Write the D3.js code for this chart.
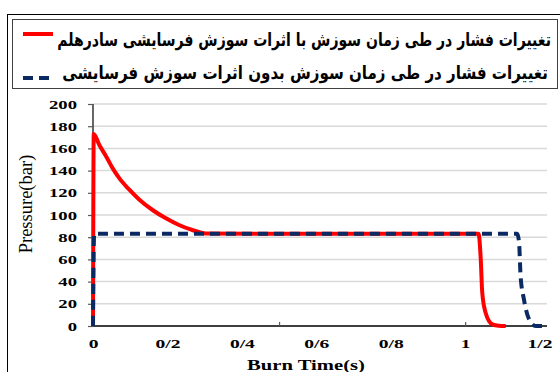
<!DOCTYPE html>
<html>
<head>
<meta charset="utf-8">
<script src="https://cdn.jsdelivr.net/npm/d3@7"></script>
<style>
  html, body { margin: 0; padding: 0; background: #fff; }
  svg { display: block; }
  .serif { font-family: "Liberation Serif", "Times New Roman", serif; }
  .fa { font-family: "DejaVu Sans", sans-serif; font-weight: bold; }
</style>
</head>
<body>
<svg id="chart" width="560" height="372"></svg>
<script>
// Pressure vs burn time, with and without erosive burning
const redTime = [0, 0.002, 0.017, 0.035, 0.053, 0.071, 0.097, 0.124, 0.160, 0.196, 0.231, 0.267, 0.303, 0.5, 0.8, 1.036, 1.042, 1.046, 1.055, 1.073, 1.09, 1.109];
const redPressure = [0, 173, 163, 153, 142, 133, 123, 114, 104.5, 97, 91, 86.5, 83.4, 83, 83, 83, 60, 30, 12, 1.5, 0.2, 0];

const navyTime = [0, 0.003, 0.3, 0.6, 0.9, 1.140, 1.145, 1.149, 1.158, 1.172, 1.190, 1.216];
const navyPressure = [0, 83, 83, 83, 83, 83, 75, 45, 24, 6, 0, 0];

const yTickValues = [0, 20, 40, 60, 80, 100, 120, 140, 160, 180, 200];
const xTickValues = [0, 0.2, 0.4, 0.6, 0.8, 1, 1.2];
const xTickLabels = ["0", "0/2", "0/4", "0/6", "0/8", "1", "1/2"];
const xMarkValues = [0, 0.5, 1];

const legendLabels = [
  "تغییرات فشار در طی زمان سوزش با اثرات سوزش فرسایشی سادرهلم",
  "تغییرات فشار در طی زمان سوزش بدون اثرات سوزش فرسایشی"
];
const xTitle = "Burn Time(s)";
const yTitle = "Pressure(bar)";

const svg = d3.select("#chart");
const plotLeft = 93, plotRight = 547, plotTop = 104, plotBottom = 326;

const x = d3.scaleLinear().domain([0, 1.22]).range([plotLeft, plotRight]);
const y = d3.scaleLinear().domain([0, 200]).range([plotBottom, plotTop]);

svg.append("rect").attr("width", 560).attr("height", 372).attr("fill", "#fff");

// outer frame
svg.append("rect")
  .attr("x", 7.5).attr("y", 14.5).attr("width", 600).attr("height", 400)
  .attr("fill", "none").attr("stroke", "#000").attr("stroke-width", 1);

// gridlines
svg.append("g")
  .selectAll("line")
  .data(yTickValues.filter(v => v > 0))
  .join("line")
  .attr("x1", plotLeft).attr("x2", plotRight)
  .attr("y1", d => y(d)).attr("y2", d => y(d))
  .attr("stroke", "#d9d9d9").attr("stroke-width", 1.5);

// widen a set of labels so that one sample label reaches a given width
function stretch(selection, sampleText, targetWidth) {
  let k = 1;
  selection.each(function() {
    if (this.textContent === sampleText) {
      const w = this.getComputedTextLength();
      if (w > 0) k = targetWidth / w;
    }
  });
  selection.attr("transform", `scale(${k},1)`);
  return k;
}

// y axis
const yAxis = svg.append("g")
  .attr("transform", `translate(${plotLeft},0)`)
  .call(d3.axisLeft(y).tickValues(yTickValues).tickSize(5).tickPadding(0).tickFormat(d3.format("d")));
yAxis.attr("font-family", null).attr("font-size", null);
yAxis.select(".domain").attr("stroke", "#000").attr("stroke-width", 1.2).attr("d", `M0,${plotBottom}V${plotTop}`);
yAxis.selectAll(".tick line").attr("stroke", "#595959").attr("stroke-width", 1.2);
const yLabels = yAxis.selectAll(".tick text")
  .attr("class", "serif")
  .style("font-weight", "bold").style("font-size", "13px")
  .attr("fill", "#000");
const ky = stretch(yLabels, "200", 28);
yLabels.attr("x", -16 / ky);

// x axis labels
const xAxis = svg.append("g")
  .attr("transform", `translate(0,${plotBottom})`)
  .call(d3.axisBottom(x).tickValues(xTickValues).tickSize(0).tickPadding(12)
    .tickFormat((d, i) => xTickLabels[i]));
xAxis.attr("font-family", null).attr("font-size", null);
xAxis.select(".domain").attr("stroke", "#000").attr("stroke-width", 1.5).attr("d", `M${plotLeft},0H${plotRight}`);
const xLabels = xAxis.selectAll(".tick text")
  .attr("class", "serif")
  .style("font-weight", "bold").style("font-size", "13.5px")
  .attr("fill", "#000");
stretch(xLabels, "1/2", 25);

// small tick marks on the x axis
const xMarks = svg.append("g")
  .attr("transform", `translate(0,${plotBottom})`)
  .call(d3.axisBottom(x).tickValues(xMarkValues).tickSize(-4).tickFormat(""));
xMarks.select(".domain").remove();
xMarks.selectAll(".tick line").attr("stroke", "#595959").attr("stroke-width", 1.2);

// series
const line = d3.line().x(d => x(d[0])).y(d => y(d[1])).curve(d3.curveMonotoneX);

svg.append("path")
  .datum(redTime.map((t, i) => [t, redPressure[i]]))
  .attr("d", line)
  .attr("fill", "none").attr("stroke", "#ff0000").attr("stroke-width", 4)
  .attr("stroke-linejoin", "round");

svg.append("path")
  .datum(navyTime.map((t, i) => [t, navyPressure[i]]))
  .attr("d", line)
  .attr("fill", "none").attr("stroke", "#0b2a63").attr("stroke-width", 4)
  .attr("stroke-dasharray", "10,6");

// axis titles
const xt = svg.append("text")
  .attr("class", "serif")
  .attr("text-anchor", "middle")
  .style("font-weight", "bold").style("font-size", "15.5px")
  .text(xTitle);
{
  const w = xt.node().getComputedTextLength();
  const k = w > 0 ? 118 / w : 1;
  xt.attr("transform", `translate(306,370) scale(${k},1)`);
}

svg.append("text")
  .attr("class", "serif")
  .attr("transform", "translate(32,204) rotate(-90)")
  .attr("text-anchor", "middle")
  .style("font-size", "18.5px")
  .text(yTitle);

// legend
const legend = svg.append("g");
legend.append("rect")
  .attr("x", 12.5).attr("y", 19.5).attr("width", 545).attr("height", 69)
  .attr("fill", "#fff").attr("stroke", "#404040").attr("stroke-width", 1);

legend.append("line")
  .attr("x1", 23).attr("x2", 53).attr("y1", 34).attr("y2", 34)
  .attr("stroke", "#ff0000").attr("stroke-width", 4);
legend.append("line")
  .attr("x1", 23).attr("x2", 50).attr("y1", 78).attr("y2", 78)
  .attr("stroke", "#0b2a63").attr("stroke-width", 4)
  .attr("stroke-dasharray", "10,6");

const legendRight = [551, 548], legendBase = [46, 79], legendWidth = [494, 486];
legend.selectAll("text.lg")
  .data(legendLabels)
  .join("text")
  .attr("class", "lg fa")
  .attr("text-anchor", "end")
  .style("font-size", "18px")
  .text(d => d)
  .each(function(d, i) {
    const w = this.getComputedTextLength();
    const k = w > 0 ? legendWidth[i] / w : 1;
    d3.select(this).attr("transform", `translate(${legendRight[i]},${legendBase[i]}) scale(${k},1)`);
  });
</script>
</body>
</html>
